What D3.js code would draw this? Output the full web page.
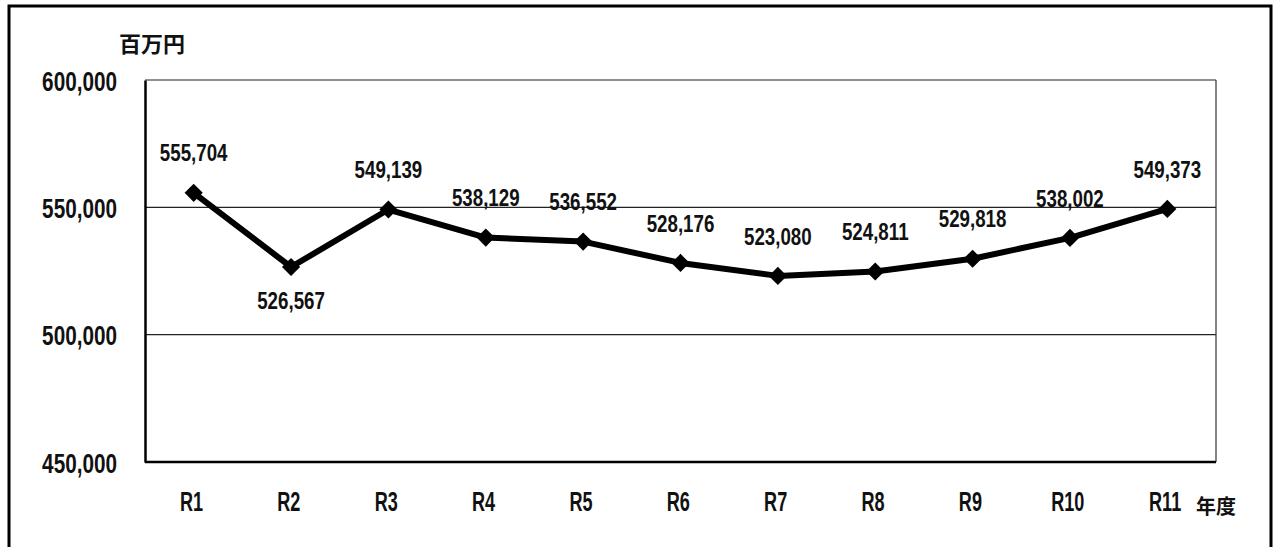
<!DOCTYPE html>
<html>
<head>
<meta charset="utf-8">
<script src="https://cdn.jsdelivr.net/npm/d3@7"></script>
<style>
  body { margin: 0; background: #fff; }
  svg { display: block; }
  .num { font-family: "Liberation Sans", Arial, sans-serif; font-weight: bold; fill: #111; }
  .cjk { font-family: "Noto Sans CJK JP", sans-serif; font-weight: bold; fill: #111; }
</style>
</head>
<body>
<svg id="chart"></svg>
<script>
// fiscal years and values (百万円)
const years = ["R1", "R2", "R3", "R4", "R5", "R6", "R7", "R8", "R9", "R10", "R11"]
const values = [555704, 526567, 549139, 538129, 536552, 528176, 523080, 524811, 529818, 538002, 549373]
const yTicks = [450000, 500000, 550000, 600000]

const width = 1275
const height = 547
const margin = {left: 145, right: 59, top: 80, bottom: 85}

const svg = d3.select("#chart")
    .attr("width", width)
    .attr("height", height)

// squeeze text horizontally, the original uses a narrow gothic face
function narrow(sel, k) {
    sel.each(function() {
        const w = this.getComputedTextLength()
        d3.select(this)
            .attr("textLength", w * k)
            .attr("lengthAdjust", "spacingAndGlyphs")
    })
}

// outer frame (bottom edge falls outside the picture)
svg.append("rect")
    .attr("x", 9).attr("y", 6)
    .attr("width", 1262).attr("height", 560)
    .style("fill", "none")
    .style("stroke", "#000")
    .style("stroke-width", 3)

const x = d3.scalePoint()
    .domain(years)
    .range([margin.left, width - margin.right])
    .padding(0.5)

const y = d3.scaleLinear()
    .domain([450000, 600000])
    .range([height - margin.bottom, margin.top])

const fmt = d3.format(",")
const x0 = margin.left, x1 = width - margin.right

// gridlines + top border
svg.append("g")
    .selectAll("line")
    .data(yTicks.slice(1))
    .enter()
    .append("line")
    .attr("x1", x0).attr("x2", x1)
    .attr("y1", d => y(d)).attr("y2", d => y(d))
    .style("stroke", "#222")
    .style("stroke-width", 1.2)

// right border of plot area
svg.append("line")
    .attr("x1", x1).attr("x2", x1)
    .attr("y1", y(600000)).attr("y2", y(450000))
    .style("stroke", "#333")
    .style("stroke-width", 1.2)

// y axis
const yAxis = d3.axisLeft(y)
    .tickValues(yTicks)
    .tickSize(0)
    .tickPadding(28)
    .tickFormat(fmt)

const gy = svg.append("g")
    .attr("transform", `translate(${x0},0)`)
    .call(yAxis)
gy.select(".domain").style("stroke", "#000").style("stroke-width", 2.5)
gy.selectAll("text")
    .attr("class", "num")
    .style("font-size", "28px")
    .attr("dy", "0.36em")
    .call(narrow, 0.74)

// x axis
const xAxis = d3.axisBottom(x)
    .tickSize(0)
    .tickPadding(30)

const gx = svg.append("g")
    .attr("transform", `translate(0,${y(450000)})`)
    .call(xAxis)
gx.select(".domain").attr("d", `M${x0},0H${x1}`).style("stroke", "#000").style("stroke-width", 2.5)
gx.selectAll("text")
    .attr("class", "num")
    .style("font-size", "27px")
    .attr("dx", "-0.1em")
    .call(narrow, 0.67)

// unit labels
svg.append("text")
    .attr("class", "cjk")
    .attr("x", 119).attr("y", 52)
    .style("font-size", "22px")
    .text("百万円")

svg.append("text")
    .attr("class", "cjk")
    .attr("x", 1196).attr("y", 514)
    .style("font-size", "20px")
    .text("年度")

// line
const line = d3.line()
    .x((d, i) => x(years[i]))
    .y(d => y(d))

svg.append("path")
    .datum(values)
    .attr("d", line)
    .style("fill", "none")
    .style("stroke", "#000")
    .style("stroke-width", 6)
    .style("stroke-linejoin", "round")

// diamond markers
svg.append("g")
    .selectAll("path")
    .data(values)
    .enter()
    .append("path")
    .attr("d", d3.symbol(d3.symbolSquare, 165))
    .attr("transform", (d, i) => `translate(${x(years[i])},${y(d)}) rotate(45)`)
    .style("fill", "#000")

// data labels (R2 sits below its point)
svg.append("g")
    .selectAll("text")
    .data(values)
    .enter()
    .append("text")
    .attr("class", "num")
    .attr("x", (d, i) => x(years[i]))
    .attr("y", (d, i) => y(d) + (i === 1 ? 33 : -40))
    .attr("dy", "0.36em")
    .style("text-anchor", "middle")
    .style("font-size", "24px")
    .text(d => fmt(d))
    .call(narrow, 0.78)
</script>
</body>
</html>
